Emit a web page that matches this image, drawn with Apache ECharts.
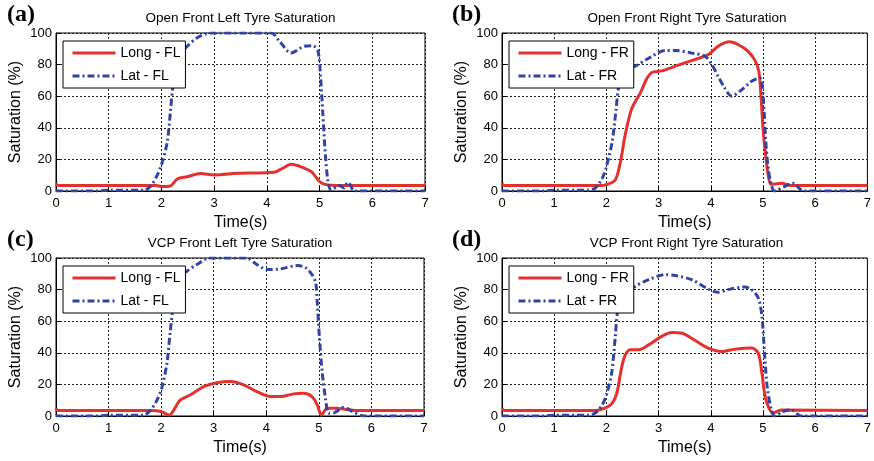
<!DOCTYPE html>
<html>
<head>
<meta charset="utf-8">
<script src="https://cdn.jsdelivr.net/npm/echarts@6/dist/echarts.min.js"></script>
<style>html,body{margin:0;padding:0;background:#fff}#c{width:874px;height:461px}</style>
</head>
<body>
<div id="c"></div>
<script>
// ---- data (time s, saturation %) ----
const panelTitles = ['Open Front Left Tyre Saturation','Open Front Right Tyre Saturation','VCP Front Left Tyre Saturation','VCP Front Right Tyre Saturation'];
const panelLetters = ['(a)','(b)','(c)','(d)'];
const longNames = ['Long - FL','Long - FR','Long - FL','Long - FR'];
const latNames = ['Lat - FL','Lat - FR','Lat - FL','Lat - FR'];
const xTicks = [0,1,2,3,4,5,6,7];
const yTicks = [0,20,40,60,80,100];

const longA = [[0,5],[0.04,3.5],[1.9,3.5],[2.0,2.8],[2.17,3.2],[2.3,7.6],[2.49,9],[2.74,11],[3.0,10.2],[3.44,11.2],[4.14,11.9],[4.3,14.4],[4.46,17],[4.59,16],[4.84,12.3],[5.0,6],[5.1,4.2],[5.3,3.5],[7,3.5]];
const latA = [[0,0],[0.8,0],[1.0,0.5],[1.66,0.5],[1.79,2.8],[1.92,10],[2.0,16.5],[2.11,31],[2.17,50],[2.22,67],[2.3,84],[2.49,91.6],[2.68,97],[2.93,100],[4.08,100],[4.24,94.8],[4.46,87.4],[4.71,91.6],[4.87,92],[4.97,88.5],[5.02,71.5],[5.06,50],[5.11,23],[5.16,6],[5.22,0.6],[5.38,3.5],[5.46,2],[5.54,5.5],[5.67,0],[7,0]];
const longB = [[0,5],[0.04,3.5],[1.9,3.5],[2.0,4],[2.17,7],[2.27,18.6],[2.36,35.5],[2.49,52.5],[2.65,62],[2.78,71.5],[2.87,75],[3.06,76],[3.32,79],[3.63,82.5],[3.95,86.3],[4.14,91.6],[4.36,94.4],[4.52,92.7],[4.71,88.5],[4.84,83],[4.92,75.8],[4.96,61],[5.0,40],[5.05,23],[5.1,10],[5.16,4.2],[5.35,4.9],[5.54,3.5],[7,3.5]];
const latB = [[0,0],[0.8,0],[1.0,0.5],[1.66,0.5],[1.79,2],[1.92,8],[2.0,15.4],[2.11,31],[2.18,50],[2.24,67],[2.33,76],[2.55,79],[2.81,84],[3.13,89],[3.32,89],[3.63,87.4],[3.89,85.3],[4.02,80],[4.14,72.6],[4.27,65],[4.4,60],[4.59,64],[4.78,69.4],[4.94,71.5],[5.0,61],[5.05,33],[5.1,14.4],[5.16,3.8],[5.22,0],[5.41,2.8],[5.57,4.9],[5.73,0.6],[5.8,0],[7,0]];
const longC = [[0,5],[0.04,3.5],[1.79,3.5],[2.0,2.8],[2.16,0.6],[2.24,3.8],[2.36,10],[2.55,13.3],[2.81,18.6],[3.06,21],[3.32,21.8],[3.57,19.7],[3.82,15.4],[4.08,12.3],[4.27,12.3],[4.52,14],[4.71,14.4],[4.87,12.3],[4.97,7],[5.05,0.6],[5.16,4.9],[5.35,4.9],[5.54,4],[5.7,3.5],[7,3.5]];
const latC = [[0,0],[0.8,0],[1.0,0.5],[1.66,0.5],[1.79,3.4],[1.92,10],[2.01,17.5],[2.11,33.4],[2.17,52.5],[2.22,67],[2.3,86.3],[2.49,91.6],[2.68,95.9],[2.93,100],[3.63,100],[3.82,95.9],[4.02,92.7],[4.27,93.1],[4.59,95.2],[4.75,93.8],[4.87,89.5],[4.94,84.2],[4.97,71.5],[5.01,50],[5.06,29],[5.13,10],[5.19,1.7],[5.29,2],[5.48,5.5],[5.64,2.8],[5.86,0],[7,0]];
const longD = [[0,5],[0.04,3.5],[1.79,3.5],[2.0,5.5],[2.11,8],[2.2,14.4],[2.27,27],[2.35,37.7],[2.46,41.9],[2.62,41.9],[2.81,45],[3.06,50.4],[3.25,52.9],[3.44,52.5],[3.7,47.8],[3.95,43],[4.21,40.8],[4.46,42.3],[4.78,43],[4.91,39.8],[4.98,27],[5.03,14.4],[5.1,6],[5.19,2],[5.35,3.8],[7,3.5]];
const latD = [[0,0],[0.8,0],[1.0,0.5],[1.66,0.5],[1.79,2],[1.92,7],[2.01,14.4],[2.1,27],[2.17,50],[2.22,67],[2.33,76],[2.55,82],[2.81,86.3],[3.13,89.5],[3.32,88.9],[3.63,86.3],[3.95,80.4],[4.14,78.3],[4.33,80],[4.65,81.7],[4.78,80],[4.91,74.7],[4.98,63],[5.03,39.8],[5.08,18.6],[5.16,3.8],[5.22,0],[5.38,2.8],[5.54,3.8],[5.73,0],[7,0]];

const longData = [longA, longB, longC, longD];
const latData = [latA, latB, latC, latD];

// ---- layout ----
const FONT = '"Liberation Sans", Arial, Helvetica, sans-serif';
const grids = [
  {left:56, top:33, width:369, height:158},
  {left:502, top:33, width:370, height:158},
  {left:56, top:258, width:368, height:158},
  {left:502, top:258, width:369, height:158}
];
const RED = '#e4312b', BLUE = '#2e45a6';
const LONG_LINE = {color:RED, width:3, type:'solid'};
const LAT_LINE = {color:BLUE, width:3, type:[7,3,2,3]};
const HIDDEN_SYMBOL = {color:'rgba(0,0,0,0)', borderWidth:0, opacity:0};

const option = {
  animation:false,
  backgroundColor:'#fff',
  grid: grids.map(g => Object.assign({show:true, borderColor:'#000', borderWidth:1, backgroundColor:'transparent'}, g)),
  title: [],
  legend: [],
  xAxis: [], yAxis: [], series: []
};

grids.forEach((g,i) => {
  option.title.push({text: panelTitles[i], left: g.left + g.width/2, textAlign:'center', top: g.top - 22, padding:0,
    textStyle:{fontFamily:FONT, fontSize:13.5, fontWeight:'normal', color:'#000'}});
  option.title.push({text: panelLetters[i], left: g.left < 100 ? 7 : 452, top: g.top - 30, padding:0,
    textStyle:{fontFamily:'"Liberation Serif","Times New Roman",serif', fontSize:24, fontWeight:'bold', color:'#000'}});
  option.xAxis.push({type:'value', gridIndex:i, min:xTicks[0], max:xTicks[xTicks.length-1], interval:1,
    name:'Time(s)', nameLocation:'middle', nameGap:24,
    nameTextStyle:{fontFamily:FONT, fontSize:16, color:'#000'},
    axisLine:{show:true, onZero:false, lineStyle:{color:'#000', width:1}},
    axisTick:{show:true, inside:true, length:4, lineStyle:{color:'#000'}},
    axisLabel:{fontFamily:FONT, fontSize:13, color:'#000', margin:6},
    splitLine:{show:true, lineStyle:{color:'#222', type:[2,2], width:1}}});
  option.yAxis.push({type:'value', gridIndex:i, min:yTicks[0], max:yTicks[yTicks.length-1], interval:20,
    name:'Saturation (%)', nameLocation:'middle', nameGap:32,
    nameTextStyle:{fontFamily:FONT, fontSize:16, color:'#000'},
    axisLine:{show:true, onZero:false, lineStyle:{color:'#000', width:1}},
    axisTick:{show:true, inside:true, length:4, lineStyle:{color:'#000'}},
    axisLabel:{fontFamily:FONT, fontSize:13, color:'#000', margin:4},
    splitLine:{show:true, lineStyle:{color:'#222', type:[2,2], width:1}}});
  option.series.push({type:'line', name: longNames[i], xAxisIndex:i, yAxisIndex:i, data: longData[i],
    symbol:'none', smooth:0.3, lineStyle:LONG_LINE, itemStyle:{color:RED}, z:2});
  option.series.push({type:'line', name: latNames[i], xAxisIndex:i, yAxisIndex:i, data: latData[i],
    symbol:'none', smooth:0.3, lineStyle:LAT_LINE, itemStyle:{color:BLUE}, z:3});
  option.legend.push({
    data:[
      {name:longNames[i], itemStyle:HIDDEN_SYMBOL, lineStyle:LONG_LINE},
      {name:latNames[i], itemStyle:HIDDEN_SYMBOL, lineStyle:LAT_LINE}
    ],
    orient:'vertical', left: g.left + 7, top: g.top + 8,
    itemWidth:43, itemHeight:14, itemGap:9, padding:[5,5,5,8], selectedMode:false,
    backgroundColor:'#fff', borderColor:'#000', borderWidth:1, borderRadius:0,
    textStyle:{fontFamily:FONT, fontSize:14, color:'#000'}});
});

const chart = echarts.init(document.getElementById('c'), null, {renderer:'canvas'});
chart.setOption(option);
</script>
</body>
</html>
